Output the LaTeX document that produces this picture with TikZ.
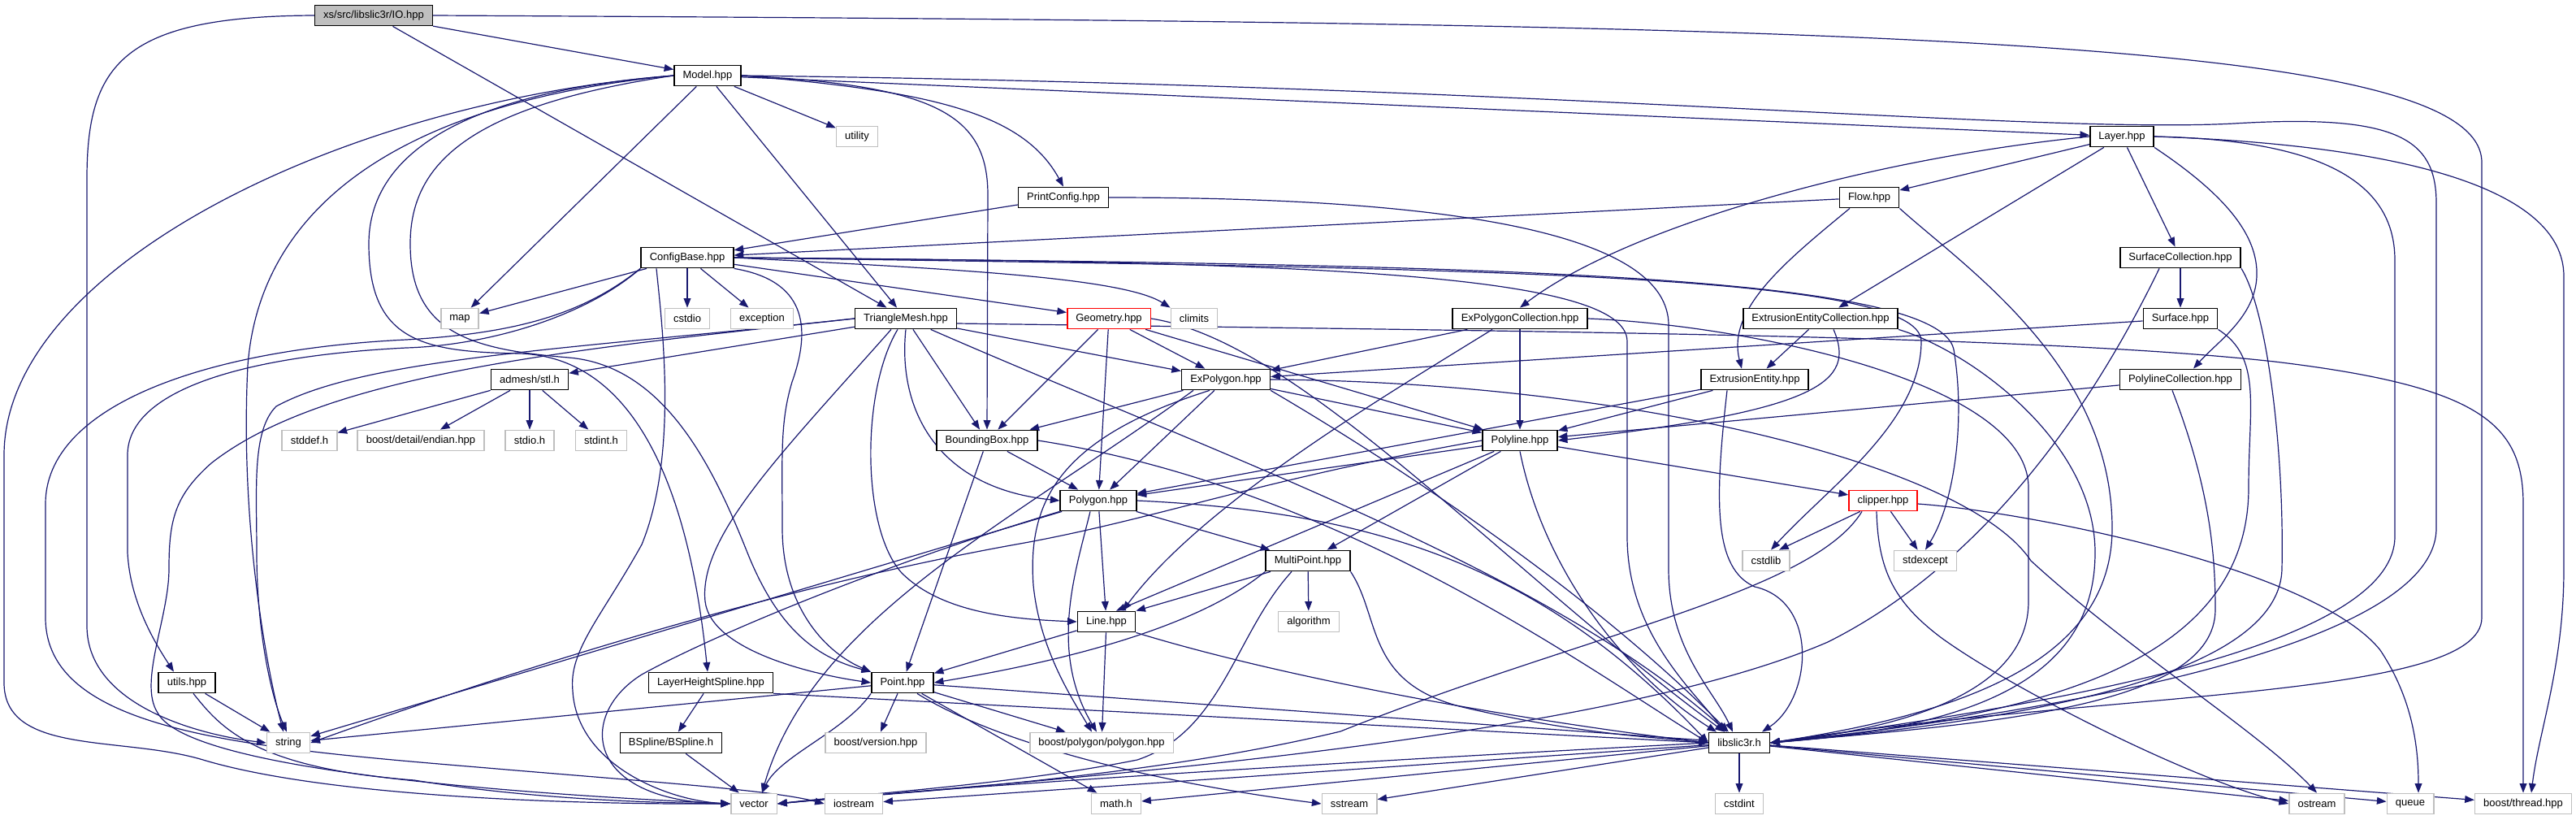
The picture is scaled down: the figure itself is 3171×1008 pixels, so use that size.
\documentclass[tikz,border=0pt]{standalone}
\usepackage{fontspec}
\setmainfont{Liberation Sans}
\usetikzlibrary{arrows.meta, backgrounds}
\definecolor{edgeblue}{HTML}{191970}
\definecolor{sysgray}{HTML}{BFBFBF}

\begin{document}
\begin{tikzpicture}[
  x=0.5pt, y=-0.5pt,
  inc/.style={rectangle, draw=black, line width=0.8pt, fill=white, minimum height=12.6pt,
              inner xsep=5.3pt, inner ysep=0pt, font=\fontsize{6.5}{7.5}\selectfont},
  sysinc/.style={inc, draw=sysgray},
  redinc/.style={inc, draw=red},
  rootinc/.style={inc, fill=sysgray},
  dep/.style={draw=edgeblue, line width=0.6pt, -{Triangle[length=5.8pt,width=4.4pt]}}
]
\useasboundingbox (0,0) rectangle (3171,1008);

% headers
\node[rootinc] (io) at (460,19) {xs/src/libslic3r/IO.hpp};
\node[inc] (model) at (871,93) {Model.hpp};
\node[sysinc] (utility) at (1055,168) {utility};
\node[inc] (layer) at (2612,168) {Layer.hpp};
\node[inc] (printcfg) at (1309,243) {PrintConfig.hpp};
\node[inc] (flow) at (2301,243) {Flow.hpp};
\node[inc] (cfgbase) at (846,317) {ConfigBase.hpp};
\node[inc] (surfcoll) at (2684,317) {SurfaceCollection.hpp};
\node[sysinc] (map) at (566,392) {map};
\node[sysinc] (cstdio) at (846,392) {cstdio};
\node[sysinc] (exception) at (938,392) {exception};
\node[inc] (trimesh) at (1115,392) {TriangleMesh.hpp};
\node[redinc] (geometry) at (1365,392) {Geometry.hpp};
\node[sysinc] (climits) at (1470,392) {climits};
\node[inc] (expcoll) at (1871,392) {ExPolygonCollection.hpp};
\node[inc] (eecoll) at (2241,392) {ExtrusionEntityCollection.hpp};
\node[inc] (surface) at (2684,392) {Surface.hpp};
\node[inc] (admesh) at (652,467) {admesh/stl.h};
\node[inc] (expoly) at (1509,467) {ExPolygon.hpp};
\node[inc] (extent) at (2160,467) {ExtrusionEntity.hpp};
\node[inc] (plcoll) at (2684,467) {PolylineCollection.hpp};
\node[sysinc] (stddef) at (381,542) {stddef.h};
\node[sysinc] (endian) at (518,542) {boost/detail/endian.hpp};
\node[sysinc] (stdio) at (652,542) {stdio.h};
\node[sysinc] (stdint) at (740,542) {stdint.h};
\node[inc] (bbox) at (1215,542) {BoundingBox.hpp};
\node[inc] (polyline) at (1871,542) {Polyline.hpp};
\node[inc] (polygon) at (1352,616) {Polygon.hpp};
\node[redinc] (clipper) at (2318,616) {clipper.hpp};
\node[inc] (multipt) at (1610,690) {MultiPoint.hpp};
\node[sysinc] (cstdlib) at (2174,690) {cstdlib};
\node[sysinc] (stdexcept) at (2370,690) {stdexcept};
\node[inc] (line) at (1362,765) {Line.hpp};
\node[sysinc] (algorithm) at (1611,765) {algorithm};
\node[inc] (utils) at (230,840) {utils.hpp};
\node[inc] (lhspline) at (875,840) {LayerHeightSpline.hpp};
\node[inc] (point) at (1111,840) {Point.hpp};
\node[sysinc] (string) at (355,914) {string};
\node[inc] (bspline) at (826,914) {BSpline/BSpline.h};
\node[sysinc] (bversion) at (1078,914) {boost/version.hpp};
\node[sysinc] (bpolygon) at (1356,914) {boost/polygon/polygon.hpp};
\node[inc] (libslic) at (2141,914) {libslic3r.h};
\node[sysinc] (vector) at (928,989) {vector};
\node[sysinc] (iostream) at (1051,989) {iostream};
\node[sysinc] (mathh) at (1374,989) {math.h};
\node[sysinc] (sstream) at (1661,989) {sstream};
\node[sysinc] (cstdint) at (2141,989) {cstdint};
\node[sysinc] (ostream) at (2852,989) {ostream};
\node[sysinc] (queue) at (2967,989) {queue};
\node[sysinc] (bthread) at (3106,989) {boost/thread.hpp};

\begin{scope}[on background layer]
% IO.hpp
\draw[dep] (io) -- (model);
\draw[dep] (io) -- (trimesh);
\draw[dep] (io.east) .. controls (2300,28) and (3055,45) .. (3055,200) -- (3055,760) .. controls (3055,860) and (2600,850) .. (libslic.east);
\draw[dep] (io.west) .. controls (150,20) and (107,80) .. (107,220) -- (107,770) .. controls (107,870) and (250,905) .. (string.west);
% Model.hpp
\draw[dep] (model) -- (utility);
\draw[dep] (model.east) .. controls (1150,112) and (1260,140) .. (printcfg.north);
\draw[dep] (model) -- (layer);
\draw[dep] (model.east) .. controls (1900,105) and (2500,165) .. (2750,152) .. controls (2950,140) and (2999,170) .. (2999,250) -- (2999,650) .. controls (2999,800) and (2500,880) .. (libslic.east);
\draw[dep] (model.east) .. controls (1150,105) and (1216,140) .. (1216,240) -- (bbox.north);
\draw[dep] (model) -- (trimesh);
\draw[dep] (model) -- (map);
\draw[dep] (model.west) .. controls (500,125) and (320,250) .. (305,450) .. controls (295,650) and (330,830) .. ([xshift=-3pt]string.north);
\draw[dep] (model.west) .. controls (420,125) and (5,330) .. (5,560) -- (5,840) .. controls (5,930) and (150,905) .. (250,935) .. controls (400,980) and (700,990) .. (vector.west);
\draw[dep] (model.west) .. controls (550,115) and (454,200) .. (454,300) .. controls (454,420) and (520,433) .. (640,435) .. controls (790,440) and (850,620) .. ([xshift=-2pt]lhspline.north);
\draw[dep] (model.west) .. controls (580,130) and (505,200) .. (505,300) .. controls (505,410) and (580,430) .. (700,440) .. controls (820,450) and (880,580) .. (920,680) .. controls (960,780) and (1010,810) .. (point.north west);
% PrintConfig.hpp
\draw[dep] (printcfg) -- (cfgbase);
\draw[dep] (printcfg.east) .. controls (1700,243) and (2054,270) .. (2054,400) -- (2054,700) .. controls (2054,800) and (2110,850) .. ([xshift=-4pt]libslic.north);
% Layer.hpp
\draw[dep] (layer) -- (flow);
\draw[dep] (layer) -- (surfcoll);
\draw[dep] (layer.west) .. controls (2300,195) and (2000,280) .. (expcoll.north);
\draw[dep] (layer) -- (eecoll);
\draw[dep] (layer.south east) .. controls (2740,240) and (2780,290) .. (2778,340) .. controls (2776,390) and (2730,420) .. ([xshift=8pt]plcoll.north);
\draw[dep] (layer.east) .. controls (2850,172) and (2948,220) .. (2948,320) -- (2948,660) .. controls (2948,800) and (2500,870) .. (libslic.east);
\draw[dep] (layer.east) .. controls (2950,178) and (3156,230) .. (3156,340) -- (3156,700) .. controls (3156,820) and (3125,900) .. ([xshift=5pt]bthread.north);
% Flow.hpp
\draw[dep] (flow) -- (cfgbase);
\draw[dep] ([xshift=-12pt]flow.south) .. controls (2200,320) and (2125,380) .. ([xshift=-8pt]extent.north);
\draw[dep] (flow.south east) .. controls (2420,330) and (2600,450) .. (2600,650) .. controls (2600,820) and (2400,880) .. (libslic.east);
% SurfaceCollection.hpp
\draw[dep] (surfcoll) -- (surface);
\draw[dep] (surfcoll.south east) .. controls (2790,380) and (2812,550) .. (2809,700) .. controls (2806,840) and (2450,890) .. (libslic.east);
\draw[dep] ([xshift=-13pt]surfcoll.south) .. controls (2600,450) and (2470,680) .. (2250,790) .. controls (1950,920) and (1200,965) .. (vector.east);
% Surface.hpp
\draw[dep] (surface) -- (expoly);
\draw[dep] (surface.south east) .. controls (2785,440) and (2768,500) .. (2768,600) .. controls (2768,840) and (2450,885) .. (libslic.east);
% PolylineCollection.hpp
\draw[dep] (plcoll) -- (polyline);
\draw[dep] ([xshift=-5pt]plcoll.south) .. controls (2720,600) and (2727,680) .. (2727,750) .. controls (2727,870) and (2450,890) .. (libslic.east);
% ExPolygonCollection.hpp
\draw[dep] (expcoll) -- (expoly);
\draw[dep] (expcoll) -- (polyline);
\draw[dep] ([xshift=-17pt]expcoll.south) .. controls (1700,490) and (1480,620) .. ([xshift=10pt]line.north);
\draw[dep] (expcoll.east) .. controls (2150,400) and (2497,470) .. (2497,600) -- (2497,740) .. controls (2497,850) and (2350,895) .. (libslic.east);
% ExtrusionEntityCollection.hpp
\draw[dep] (eecoll) -- (extent);
\draw[dep] ([xshift=8pt]eecoll.south) .. controls (2285,470) and (2240,505) .. (polyline.east);
\draw[dep] (eecoll.south east) .. controls (2420,430) and (2579,540) .. (2579,680) .. controls (2579,840) and (2420,895) .. (libslic.east);
% ExtrusionEntity.hpp
\draw[dep] (extent) -- (polygon);
\draw[dep] (extent) -- (polyline);
\draw[dep] ([xshift=-17pt]extent.south) .. controls (2110,620) and (2110,700) .. (2160,722) .. controls (2240,740) and (2230,860) .. ([xshift=14pt]libslic.north);
% ConfigBase.hpp
\draw[dep] (cfgbase) -- (map);
\draw[dep] (cfgbase) -- (cstdio);
\draw[dep] (cfgbase) -- (exception);
\draw[dep] (cfgbase) -- (geometry);
\draw[dep] (cfgbase.east) .. controls (1150,330) and (1380,340) .. (climits.north west);
\draw[dep] (cfgbase.east) .. controls (1800,330) and (2365,335) .. (2365,420) .. controls (2365,520) and (2250,600) .. ([xshift=3pt]cstdlib.north);
\draw[dep] (cfgbase.east) .. controls (1800,325) and (2385,335) .. (2405,430) .. controls (2420,520) and (2405,620) .. (stdexcept.north);
\draw[dep] (cfgbase.south east) .. controls (990,345) and (1000,400) .. (975,470) .. controls (960,520) and (963,560) .. (963,650) .. controls (963,740) and (1010,800) .. (point.north west);
\draw[dep] (cfgbase.east) .. controls (1600,322) and (2003,335) .. (2003,420) -- (2003,660) .. controls (2003,780) and (2085,850) .. ([xshift=-9pt]libslic.north);
\draw[dep] (cfgbase.south west) .. controls (720,390) and (600,425) .. (500,428) .. controls (300,438) and (157,480) .. (157,560) -- (157,680) .. controls (160,740) and (190,790) .. ([xshift=-8pt]utils.north);
\draw[dep] (cfgbase.south west) .. controls (720,385) and (640,410) .. (500,418) .. controls (250,430) and (56,500) .. (56,620) -- (56,760) .. controls (56,900) and (300,920) .. (600,945) .. controls (800,962) and (950,972) .. (iostream.west);
\draw[dep] ([xshift=-19pt]cfgbase.south) .. controls (815,400) and (835,560) .. (790,670) .. controls (740,760) and (700,800) .. (705,850) .. controls (710,940) and (820,985) .. (vector.west);
% TriangleMesh.hpp
\draw[dep] (trimesh) -- (admesh);
\draw[dep] (trimesh) -- (expoly);
\draw[dep] (trimesh) -- (bbox);
\draw[dep] (trimesh.south) .. controls (1105,500) and (1150,600) .. (polygon.west);
\draw[dep] ([xshift=-5pt]trimesh.south) .. controls (1060,480) and (1060,650) .. (1110,705) .. controls (1160,755) and (1250,762) .. (line.west);
\draw[dep] ([xshift=-9pt]trimesh.south) .. controls (960,560) and (860,660) .. (868,740) .. controls (875,800) and (1000,830) .. (point.west);
\draw[dep] (trimesh) .. controls (1500,560) and (1900,700) .. (libslic);
\draw[dep] ([yshift=-3pt]trimesh.east) .. controls (1900,408) and (2500,412) .. (2800,445) .. controls (3050,475) and (3106,520) .. (3106,620) -- (bthread.north);
\draw[dep] (trimesh.west) .. controls (700,430) and (450,440) .. (340,500) .. controls (310,530) and (316,600) .. (316,680) .. controls (316,780) and (335,860) .. ([xshift=-1pt]string.north);
\draw[dep] (trimesh.west) .. controls (700,430) and (400,460) .. (260,570) .. controls (215,610) and (208,640) .. (208,700) .. controls (208,760) and (170,840) .. (194,877) .. controls (230,945) and (600,975) .. (vector.west);
% Geometry.hpp
\draw[dep] (geometry) -- (bbox);
\draw[dep] (geometry) -- (expoly);
\draw[dep] (geometry) -- (polygon);
\draw[dep] (geometry) -- (polyline);
\draw[dep] (geometry.east) .. controls (1600,420) and (1850,700) .. (libslic);
% ExPolygon.hpp
\draw[dep] (expoly) -- (bbox);
\draw[dep] (expoly) -- (polygon);
\draw[dep] (expoly) -- (polyline);
\draw[dep] (expoly.south east) .. controls (1700,560) and (1950,720) .. (libslic);
\draw[dep] ([xshift=-20pt]expoly.south) .. controls (1250,640) and (1000,760) .. ([xshift=5pt]vector.north);
\draw[dep] ([xshift=-10pt]expoly.south) .. controls (1300,540) and (1265,620) .. (1272,720) .. controls (1280,800) and (1320,860) .. ([xshift=-6pt]bpolygon.north);
\draw[dep] (expoly.east) .. controls (2000,470) and (2420,570) .. (2500,690) .. controls (2620,800) and (2780,900) .. (ostream.north);
% BoundingBox.hpp
\draw[dep] (bbox) -- (point);
\draw[dep] (bbox) -- (polygon);
\draw[dep] (bbox.east) .. controls (1650,600) and (1950,820) .. (libslic.west);
% Polygon.hpp
\draw[dep] (polygon) -- (line);
\draw[dep] (polygon) -- (multipt);
\draw[dep] (polygon) -- (string);
\draw[dep] (polygon.south west) .. controls (1100,690) and (880,780) .. (790,830) .. controls (710,880) and (720,985) .. (vector.west);
\draw[dep] ([xshift=-5pt]polygon.south) .. controls (1325,700) and (1290,800) .. ([xshift=-3pt]bpolygon.north);
\draw[dep] (polygon.east) .. controls (1700,630) and (1900,700) .. (libslic.west);
% Polyline.hpp
\draw[dep] (polyline) -- (polygon);
\draw[dep] (polyline) -- ([xshift=6pt]line.north);
\draw[dep] (polyline) -- (multipt);
\draw[dep] (polyline) -- (clipper);
\draw[dep] (polyline.south) .. controls (1900,700) and (2000,830) .. ([xshift=-14pt]libslic.north);
\draw[dep] (polyline.west) .. controls (1550,590) and (1420,640) .. (1250,670) .. controls (1000,715) and (700,800) .. (string.east);
% MultiPoint.hpp
\draw[dep] (multipt) -- (line.north east);
\draw[dep] (multipt.south west) .. controls (1470,775) and (1300,815) .. (point.east);
\draw[dep] (multipt) -- (algorithm);
\draw[dep] (multipt.south east) .. controls (1700,760) and (1680,840) .. (1800,870) .. controls (1950,905) and (2050,908) .. (libslic.west);
\draw[dep] ([xshift=-10pt]multipt.south) .. controls (1520,780) and (1505,900) .. (1400,935) .. controls (1250,965) and (1050,978) .. (vector.east);
% Line.hpp
\draw[dep] (line) -- (point);
\draw[dep] (line) -- (bpolygon);
\draw[dep] (line.south east) .. controls (1600,840) and (1900,890) .. (libslic.west);
% Point.hpp
\draw[dep] (point) -- (string);
\draw[dep] (point.south west) .. controls (1040,900) and (960,930) .. ([xshift=5pt]vector.north);
\draw[dep] (point) -- (bversion);
\draw[dep] (point) -- (bpolygon);
\draw[dep] (point) -- (mathh);
\draw[dep] ([xshift=9pt]point.south) .. controls (1220,910) and (1400,960) .. (sstream.west);
\draw[dep] (point) -- (libslic);
% LayerHeightSpline.hpp, BSpline, utils
\draw[dep] (lhspline) -- (bspline);
\draw[dep] (lhspline.south east) -- (libslic.west);
\draw[dep] (bspline) -- (vector);
\draw[dep] (utils) -- (string);
\draw[dep] ([xshift=4pt]utils.south) .. controls (270,893) and (310,945) .. (510,960) .. controls (650,983) and (800,988) .. (vector.west);
% admesh/stl.h
\draw[dep] (admesh) -- (stddef);
\draw[dep] (admesh) -- (endian);
\draw[dep] (admesh) -- (stdio);
\draw[dep] (admesh) -- (stdint);
% clipper.hpp
\draw[dep] (clipper) -- ([xshift=8pt]cstdlib.north);
\draw[dep] (clipper) -- (stdexcept);
\draw[dep] ([xshift=-13pt]clipper.south) .. controls (2230,730) and (1950,780) .. (1650,900) .. controls (1400,960) and (1100,975) .. (vector.east);
\draw[dep] ([xshift=-4pt]clipper.south) .. controls (2312,700) and (2330,740) .. (2390,785) .. controls (2480,850) and (2700,960) .. (ostream.west);
\draw[dep] ([yshift=-2pt]clipper.east) .. controls (2500,630) and (2850,700) .. (2930,800) .. controls (2970,860) and (2977,920) .. ([xshift=5pt]queue.north);
% libslic3r.h
\draw[dep] (libslic) -- (cstdint);
\draw[dep] (libslic) -- (sstream);
\draw[dep] (libslic.west) .. controls (1700,935) and (1200,965) .. (vector.east);
\draw[dep] (libslic) -- (iostream);
\draw[dep] (libslic) -- (mathh);
\draw[dep] (libslic) -- (ostream);
\draw[dep] (libslic) -- (queue);
\draw[dep] (libslic) -- (bthread);
\end{scope}
\end{tikzpicture}
\end{document}
